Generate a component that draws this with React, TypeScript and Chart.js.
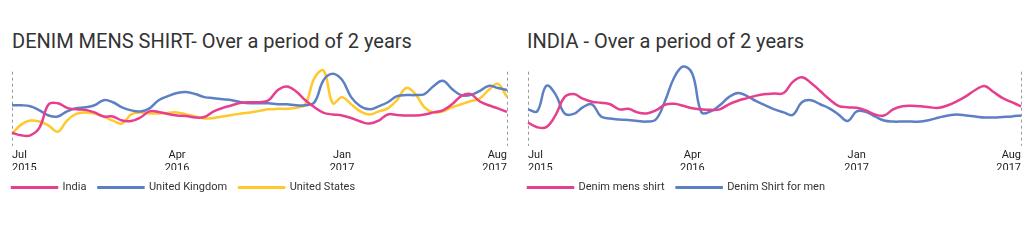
import React, { useEffect, useRef } from "react";
import { Chart, registerables } from "chart.js";

Chart.register(...registerables);

// semi-monthly categories starting Jul 2015
const categories: string[] = [];
for (let i = 0; i < 55; i++) {
  const m = 6 + Math.floor(i / 2);
  const year = 2015 + Math.floor(m / 12);
  const month = (m % 12) + 1;
  categories.push(`${year}-${String(month).padStart(2, "0")}-${i % 2 === 0 ? "01" : "15"}`);
}

const tickIndices = [0, 18, 36, 54];
const tickLabels = [
  ["Jul", "2015"],
  ["Apr", "2016"],
  ["Jan", "2017"],
  ["Aug", "2017"],
];

// Left chart: DENIM MENS SHIRT by country
const india = [13, 10.5, 10.5, 18, 41, 42, 37.5, 36, 35.5, 33, 29, 29, 25, 24.5, 28, 34, 33.5, 31.5, 30, 29.5, 28, 28.5, 34, 37.5, 40, 42.5, 43, 43, 45, 55, 58.5, 53.5, 45, 38, 32.5, 31, 30, 27.5, 24, 22, 25, 31, 30.5, 30, 30, 31, 33, 35, 41, 49, 51, 44, 40, 37, 33.5];
const unitedKingdom = [40, 40, 39, 35, 30, 29, 34, 37, 38, 40, 45, 43, 38, 35, 34, 37, 45, 49, 52, 53, 51, 48, 47, 46, 45, 43, 42, 42, 42, 41, 41, 40, 40, 43, 65, 71, 65, 48, 39, 36, 39, 43, 49, 50, 50, 51, 59, 64, 56, 50, 50, 54, 59, 57, 55];
const unitedStates = [12, 21, 25, 24, 20, 14, 25, 31.5, 33, 32, 29, 25, 22, 31, 33, 32, 32, 32.5, 33, 31, 29, 27, 27.5, 29, 30.5, 32, 33, 34.5, 36, 36.5, 36.5, 37.5, 41, 67, 74, 42, 48, 41, 34, 31, 34, 37, 45, 57, 51, 38, 33, 34, 38, 41, 44, 46.5, 55, 61, 48];

// Right chart: INDIA by query
const denimMensShirt = [23, 18.5, 18.5, 30, 48, 51, 46.5, 43.5, 42.5, 41, 36, 36.5, 33, 32, 35, 40.5, 41.5, 39.5, 37, 36, 35.5, 36, 41, 44.5, 47, 49.5, 51, 51.5, 52, 63, 67.5, 62, 54, 46, 39.5, 38, 37.5, 35, 31, 30, 36, 39, 39.5, 39, 38, 37.5, 40, 44, 49, 55, 59, 53, 47, 43, 39];
const denimShirtForMen = [36, 34, 59, 51, 32, 31.5, 38, 41, 29, 27, 26, 25.5, 24.5, 24, 26, 44, 67, 78, 71, 33, 34, 40, 48, 52, 49, 44, 40, 36, 33, 30.5, 43, 45, 41, 37, 31, 24.5, 34, 33.5, 29, 25, 24, 24, 24, 24, 25.5, 28, 30, 31, 30, 29, 28, 28, 28.5, 29, 30];

const PINK = "#e63f8d";
const BLUE = "#5d80c4";
const YELLOW = "#ffc82c";
const FONT = "Roboto";

const edgeLines = {
  id: "edgeLines",
  beforeDatasetsDraw(chart: any) {
    const { ctx, scales } = chart;
    const x = scales.x;
    const y = scales.y;
    const top = y.getPixelForValue(73);
    const bottom = y.getPixelForValue(0);
    ctx.save();
    ctx.strokeStyle = "#9a9a9a";
    ctx.lineWidth = 1;
    ctx.setLineDash([3, 3]);
    for (const i of [0, categories.length - 1]) {
      const px = Math.round(x.getPixelForValue(i)) + 0.5;
      ctx.beginPath();
      ctx.moveTo(px, top);
      ctx.lineTo(px, bottom);
      ctx.stroke();
    }
    ctx.restore();
  },
};

function ds(label: string, data: number[], color: string) {
  return {
    label,
    data,
    borderColor: color,
    backgroundColor: color,
    borderWidth: 2.5,
    pointRadius: 0,
    tension: 0.4,
    fill: false,
  };
}

function LineChart({ datasets, rightPad }: { datasets: any[]; rightPad: number }) {
  const ref = useRef<HTMLCanvasElement>(null);
  useEffect(() => {
    if (!ref.current) return;
    const chart = new Chart(ref.current, {
      type: "line",
      data: { labels: categories, datasets },
      plugins: [edgeLines],
      options: {
        animation: false,
        responsive: false,
        devicePixelRatio: 1,
        layout: { padding: { top: 6.5, right: rightPad, left: 0, bottom: 0 } },
        plugins: {
          tooltip: { enabled: false },
          title: { display: false },
          legend: {
            display: true,
            position: "bottom",
            align: "start",
            labels: {
              boxWidth: 45,
              boxHeight: 0.5,
              padding: 12,
              color: "#333",
              font: { family: FONT, size: 11 },
            },
          },
        },
        scales: {
          x: {
            type: "category",
            grid: { display: false, drawTicks: false },
            border: { display: false },
            afterFit: (s: any) => {
              s.height = 24;
            },
            ticks: {
              autoSkip: false,
              maxRotation: 0,
              minRotation: 0,
              align: "inner",
              padding: 3,
              color: "#222",
              font: { family: FONT, size: 11, lineHeight: 1.15 },
              callback: (_v: any, index: number) => {
                const k = tickIndices.indexOf(index);
                return k >= 0 ? tickLabels[k] : "";
              },
            },
          },
          y: {
            min: 0,
            max: 83,
            grid: { display: false, drawTicks: false },
            border: { display: false },
            ticks: { display: false },
            afterFit: (s: any) => {
              s.width = 12;
            },
          },
        },
      } as any,
    });
    return () => chart.destroy();
  }, []);
  return <canvas ref={ref} width={516} height={148} style={{ display: "block" }} />;
}

const titleStyle: React.CSSProperties = {
  position: "absolute",
  top: 31,
  fontFamily: FONT,
  fontSize: 20,
  lineHeight: "20px",
  color: "#333",
  whiteSpace: "nowrap",
};

export default function App() {
  return (
    <div style={{ position: "absolute", left: 0, top: 0, width: 1032, height: 248, background: "#fff" }}>
      <div style={{ ...titleStyle, left: 12 }}>DENIM MENS SHIRT- Over a period of 2 years</div>
      <div style={{ ...titleStyle, left: 527 }}>INDIA - Over a period of 2 years</div>
      <div style={{ position: "absolute", left: 0, top: 55 }}>
        <LineChart
          rightPad={9}
          datasets={[
            ds("India", india, PINK),
            ds("United Kingdom", unitedKingdom, BLUE),
            ds("United States", unitedStates, YELLOW),
          ]}
        />
      </div>
      <div style={{ position: "absolute", left: 516, top: 55 }}>
        <LineChart
          rightPad={11}
          datasets={[
            ds("Denim mens shirt", denimMensShirt, PINK),
            ds("Denim Shirt for men", denimShirtForMen, BLUE),
          ]}
        />
      </div>
    </div>
  );
}
